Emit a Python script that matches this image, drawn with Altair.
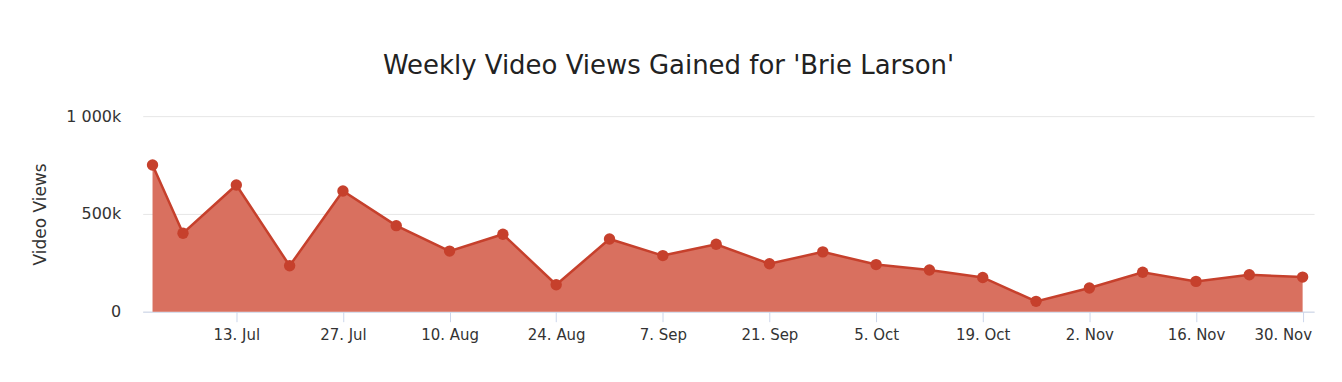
import altair as alt
import pandas as pd

dates = ["2020-07-02", "2020-07-06", "2020-07-13", "2020-07-20", "2020-07-27",
         "2020-08-03", "2020-08-10", "2020-08-17", "2020-08-24", "2020-08-31",
         "2020-09-07", "2020-09-14", "2020-09-21", "2020-09-28", "2020-10-05",
         "2020-10-12", "2020-10-19", "2020-10-26", "2020-11-02", "2020-11-09",
         "2020-11-16", "2020-11-23", "2020-11-30"]
views = [750000, 401000, 648000, 235000, 617000,
         440000, 310000, 396000, 138000, 372000,
         287000, 345000, 245000, 306000, 241000,
         213000, 175000, 53000, 121000, 202000,
         155000, 189000, 177000]
tick_dates = [(7, 13), (7, 27), (8, 10), (8, 24), (9, 7), (9, 21),
              (10, 5), (10, 19), (11, 2), (11, 16), (11, 30)]
y_ticks = [0, 500000, 1000000]

df = pd.DataFrame({"date": dates, "views": views})

FONT = "DejaVu Sans"
LINE = "#c6402c"
FILL = "#d9705f"

x_enc = alt.X(
    "date:T",
    scale=alt.Scale(
        type="utc",
        domain=[alt.DateTime(year=2020, month=6, date=30, hours=17, utc=True),
                alt.DateTime(year=2020, month=12, date=1, hours=12, utc=True)],
    ),
    axis=alt.Axis(
        values=[alt.DateTime(year=2020, month=m, date=d, utc=True) for m, d in tick_dates],
        labelExpr="utcFormat(datum.value, '%-d. %b')",
        title=None,
        grid=False,
        domainColor="#ccd6eb",
        tickColor="#ccd6eb",
        tickSize=10,
        labelPadding=6,
        labelFont=FONT,
        labelFontSize=15,
        labelColor="#333333",
        labelFlush=15,
        labelFlushOffset=9,
    ),
)
y_enc = alt.Y(
    "views:Q",
    scale=alt.Scale(domain=[0, 1000000], nice=False),
    axis=alt.Axis(
        values=y_ticks,
        labelExpr="datum.value == 0 ? '0' : replace(format(datum.value / 1000, ',d'), ',', ' ') + 'k'",
        title="Video Views",
        titleFont=FONT,
        titleFontSize=17,
        titleFontWeight="normal",
        titleColor="#333333",
        titlePadding=16,
        domain=False,
        ticks=False,
        gridColor="#e6e6e6",
        labelPadding=22,
        labelFont=FONT,
        labelFontSize=16,
        labelColor="#333333",
    ),
)

base = alt.Chart(df).encode(x=x_enc, y=y_enc)
area = base.mark_area(color=FILL, opacity=1)
line = base.mark_line(color=LINE, strokeWidth=2.5)
pts = base.mark_circle(color=LINE, size=130, opacity=1)

chart = (
    alt.layer(area, line, pts)
    .properties(
        width=1174,
        height=196,
        autosize=alt.AutoSizeParams(type="none"),
        padding={"left": 135, "top": 108, "right": 20, "bottom": 40},
        title=alt.TitleParams(
            text="Weekly Video Views Gained for 'Brie Larson'",
            font=FONT,
            fontSize=26,
            fontWeight="normal",
            color="#222222",
            anchor="middle",
            dx=-60,
            offset=29,
        ),
    )
    .configure_view(stroke=None)
)

chart.save("out.html", embed_options={"renderer": "svg", "actions": False})
